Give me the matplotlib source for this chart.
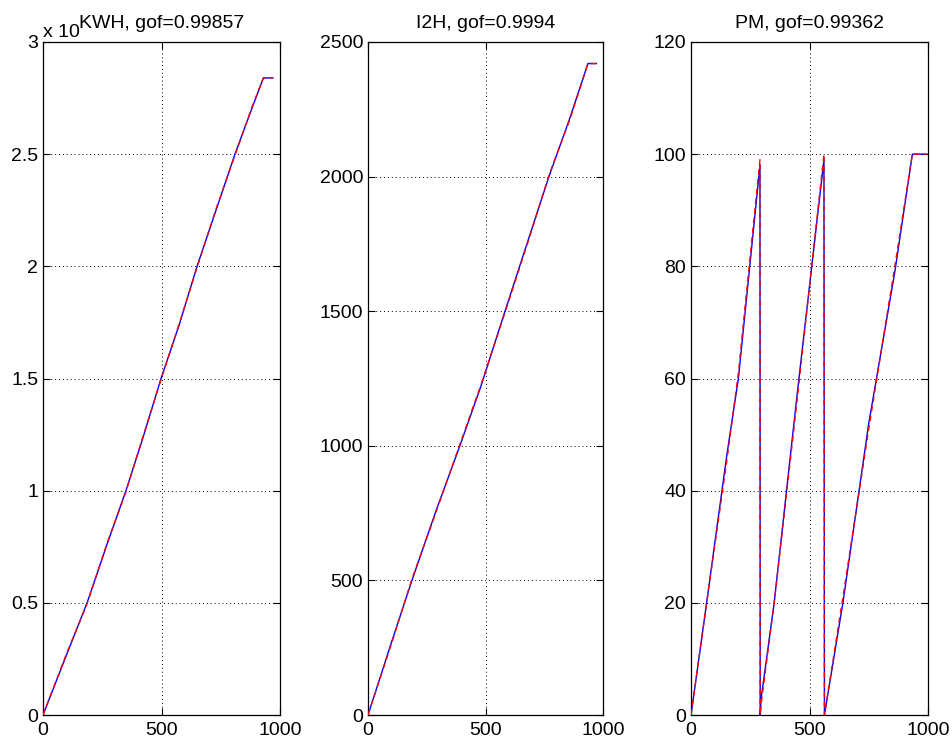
import matplotlib
matplotlib.use("Agg")
import matplotlib.pyplot as plt

plt.rcParams['font.family'] = ['Liberation Sans', 'DejaVu Sans']

# ---- data ----
kwh_x = [0, 100, 186, 270, 350, 420, 498, 575, 650, 730, 810, 880, 930, 970]
kwh_y = [0, 2700, 5000, 7600, 10000, 12300, 15000, 17400, 20000, 22500, 25000, 27000, 28400, 28400]
kwh_fit = [0, 2750, 4950, 7650, 9950, 12350, 14950, 17450, 19950, 22550, 24950, 27050, 28400, 28400]

i2h_x = [0, 100, 187, 290, 391, 480, 583, 680, 770, 860, 936, 972]
i2h_y = [0, 270, 500, 760, 1000, 1220, 1500, 1760, 2000, 2220, 2420, 2420]
i2h_fit = [0, 265, 505, 755, 1005, 1225, 1495, 1755, 2005, 2215, 2420, 2420]

pm_x = [0, 66, 150, 200, 291, 292, 296, 351, 450, 561, 563, 641, 750, 860, 934, 995]
pm_y = [0, 20, 46, 60, 98, 0, 3, 20, 58, 99, 0, 20, 52, 79, 100, 100]
pm_fit = [0, 20, 45, 61, 99, 0, 2, 20, 57, 100, 0, 21, 51, 80, 100, 100]

titles = ["KWH, gof=0.99857", "I2H, gof=0.9994", "PM, gof=0.99362"]
ylims = [3, 2500, 120]
yticks = [[0, 0.5, 1, 1.5, 2, 2.5, 3],
          [0, 500, 1000, 1500, 2000, 2500],
          [0, 20, 40, 60, 80, 100, 120]]
yticklabels = [["0", "0.5", "1", "1.5", "2", "2.5", "3"],
               ["0", "500", "1000", "1500", "2000", "2500"],
               ["0", "20", "40", "60", "80", "100", "120"]]
xticks = [0, 500, 1000]
xticklabels = ["0", "500", "1000"]

W, H = 952, 742
FS = 14
fig = plt.figure(figsize=(W / 100, H / 100), dpi=100)
lefts = [43, 368, 691]
widths = [237, 235, 237]
top, bottom = 42, 715

series = [
    (kwh_x, [v / 1e4 for v in kwh_y], [v / 1e4 for v in kwh_fit]),
    (i2h_x, i2h_y, i2h_fit),
    (pm_x, pm_y, pm_fit),
]

for i in range(3):
    ax = fig.add_axes([lefts[i] / W, (H - bottom) / H, widths[i] / W, (bottom - top) / H])
    x, y, f = series[i]
    ax.plot(x, y, color='blue', lw=1.0, zorder=3)
    ax.plot(x, f, color='red', lw=1.0, ls=(0, (4, 3)), zorder=4)
    ax.set_xlim(0, 1000)
    ax.set_ylim(0, ylims[i])
    ax.set_xticks(xticks)
    ax.set_xticklabels(xticklabels)
    ax.set_yticks(yticks[i])
    ax.set_yticklabels(yticklabels[i])
    ax.grid(True, color='black', ls=(0, (1, 3)), lw=0.7)
    ax.tick_params(direction='in', length=5, width=0.8, labelsize=FS,
                   top=True, right=True, colors='black')
    ax.tick_params(axis='y', pad=3.5)
    ax.tick_params(axis='x', pad=5)
    for s in ax.spines.values():
        s.set_linewidth(0.9)
        s.set_color('black')
    ax.set_title(titles[i], fontsize=FS, pad=10)

fig.text(43 / W, (H - 37) / H, "x 10", fontsize=FS, ha='left', va='baseline', zorder=0)

fig.savefig("out.png", dpi=100, facecolor='white')
